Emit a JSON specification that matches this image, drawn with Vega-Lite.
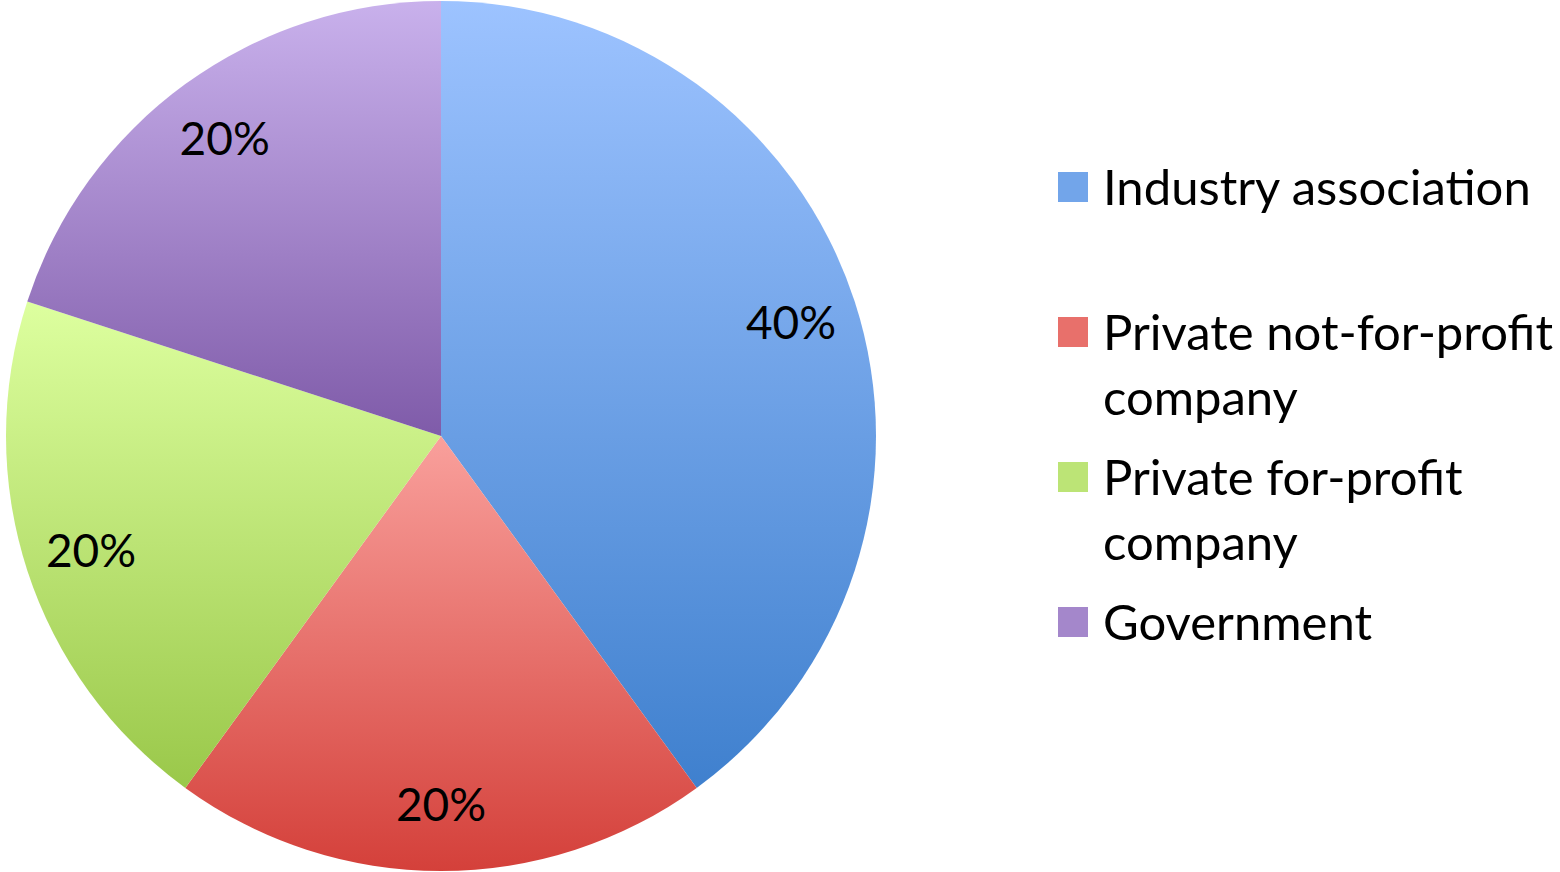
{
  "$schema": "https://vega.github.io/schema/vega-lite/v6.json",
  "width": 882,
  "height": 872,
  "padding": 0,
  "background": "white",
  "view": {"stroke": null},
  "data": {
    "values": [
      {"category": "Industry association", "share": 0.4, "rank": 1},
      {"category": "Private not-for-profit company", "share": 0.2, "rank": 2},
      {"category": "Private for-profit company", "share": 0.2, "rank": 3},
      {"category": "Government", "share": 0.2, "rank": 4}
    ]
  },
  "encoding": {
    "theta": {"field": "share", "type": "quantitative", "stack": true},
    "order": {"field": "rank", "type": "ordinal"}
  },
  "layer": [
    {
      "mark": {"type": "arc", "outerRadius": 435},
      "encoding": {
        "color": {
          "condition": [
            {"test": "datum.category == 'Industry association'", "value": {"gradient": "linear", "x1": 0, "y1": 0, "x2": 0, "y2": 1, "stops": [{"offset": 0, "color": "#9DC3FF"}, {"offset": 1, "color": "#3F80CE"}]}},
            {"test": "datum.category == 'Private not-for-profit company'", "value": {"gradient": "linear", "x1": 0, "y1": 0, "x2": 0, "y2": 1, "stops": [{"offset": 0, "color": "#F9A09C"}, {"offset": 1, "color": "#D4403A"}]}},
            {"test": "datum.category == 'Private for-profit company'", "value": {"gradient": "linear", "x1": 0, "y1": 0, "x2": 0, "y2": 1, "stops": [{"offset": 0, "color": "#DDFF9F"}, {"offset": 1, "color": "#9AC84A"}]}},
            {"test": "datum.category == 'Government'", "value": {"gradient": "linear", "x1": 0, "y1": 0, "x2": 0, "y2": 1, "stops": [{"offset": 0, "color": "#C9B1EC"}, {"offset": 1, "color": "#7F5BA9"}]}}
          ],
          "field": "category",
          "type": "nominal",
          "scale": {
            "domain": ["Industry association", "Private not-for-profit company", "Private for-profit company", "Government"],
            "range": ["#72A5EA", "#E8706B", "#BCE476", "#A487CB"]
          },
          "legend": {
            "title": null,
            "orient": "none",
            "legendX": 1048.5,
            "legendY": 162.5,
            "padding": 0,
            "symbolType": "square",
            "symbolSize": 900,
            "symbolStrokeWidth": 0,
            "symbolOpacity": 1,
            "labelFont": "Lato",
            "labelFontSize": 49,
            "labelColor": "black",
            "labelOffset": 5.5,
            "labelLimit": 0,
            "clipHeight": 145,
            "rowPadding": 0,
            "labelExpr": "datum.label == 'Private not-for-profit company' ? ['Private not-for-profit', 'company'] : datum.label == 'Private for-profit company' ? ['Private for-profit', 'company'] : datum.label",
            "encode": {
              "symbols": {
                "update": {
                  "y": {"value": 24.5}
                }
              },
              "labels": {
                "update": {
                  "y": {"value": 24.5},
                  "lineHeight": {"value": 65},
                  "dy": {"value": 3}
                }
              }
            }
          }
        }
      }
    },
    {
      "mark": {"type": "text", "radius": 368, "dy": 3, "font": "Lato", "fontSize": 46, "color": "black"},
      "encoding": {
        "text": {"field": "share", "type": "quantitative", "format": ".0%"}
      }
    }
  ]
}
